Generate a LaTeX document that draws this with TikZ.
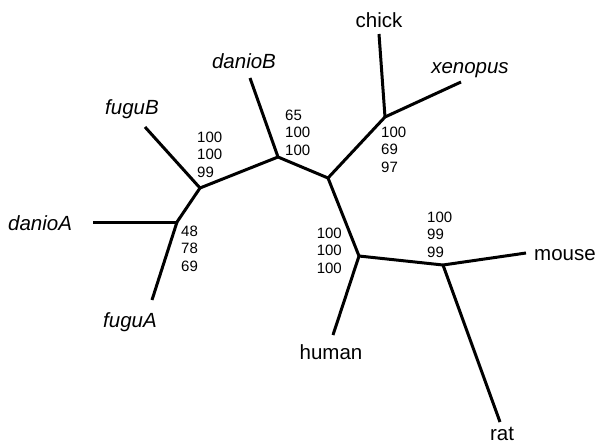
\documentclass[tikz,border=0pt]{standalone}
\usepackage{fontspec}
\setmainfont{Liberation Sans}
\begin{document}
\begin{tikzpicture}[x=1pt,y=-1pt,
  branch/.style={line width=3pt,line cap=butt,line join=round},
  taxon/.style={inner sep=0pt,font=\fontsize{20.5}{24}\selectfont},
  itaxon/.style={taxon,font=\fontsize{20.5}{24}\selectfont\itshape},
  support/.style={inner sep=0pt,align=left,font=\fontsize{15}{17.2}\selectfont},
  supportr/.style={inner sep=0pt,align=right,font=\fontsize{15}{17.2}\selectfont}]
\useasboundingbox (0,0) rectangle (600,445);
% internal nodes
\coordinate (n1) at (177,222);
\coordinate (n2) at (200,188);
\coordinate (n3) at (278,157);
\coordinate (n4) at (328,178);
\coordinate (n5) at (385,117);
\coordinate (n6) at (359,256);
\coordinate (n7) at (443,265);
% leaf ends
\coordinate (lDanioA) at (93,222);
\coordinate (lFuguA) at (152,300);
\coordinate (lFuguB) at (145,127);
\coordinate (lDanioB) at (250,78);
\coordinate (lChick) at (379,34);
\coordinate (lXenopus) at (461,82);
\coordinate (lHuman) at (333,335);
\coordinate (lMouse) at (526,253);
\coordinate (lRat) at (500,422);
% branches
\draw[branch] (lDanioA) -- (n1);
\draw[branch] (lFuguA) -- (n1);
\draw[branch] (n1) -- (n2);
\draw[branch] (lFuguB) -- (n2);
\draw[branch] (n2) -- (n3);
\draw[branch] (lDanioB) -- (n3);
\draw[branch] (n3) -- (n4);
\draw[branch] (n4) -- (n5);
\draw[branch] (lChick) -- (n5);
\draw[branch] (lXenopus) -- (n5);
\draw[branch] (n4) -- (n6);
\draw[branch] (lHuman) -- (n6);
\draw[branch] (n6) -- (n7);
\draw[branch] (lMouse) -- (n7);
\draw[branch] (lRat) -- (n7);
% taxon labels
\node[itaxon,anchor=base west] (tDanioA) at (8,230) {danioA};
\node[itaxon,anchor=base] (tFuguA) at (130,327) {fuguA};
\node[itaxon,anchor=base] (tFuguB) at (132,114) {fuguB};
\node[itaxon,anchor=base] (tDanioB) at (244,68) {danioB};
\node[taxon,anchor=base] (tChick) at (379,27) {chick};
\node[itaxon,anchor=base] (tXenopus) at (470,73) {xenopus};
\node[taxon,anchor=base] (tHuman) at (331,359) {human};
\node[taxon,anchor=base west] (tMouse) at (534,260) {mouse};
\node[taxon,anchor=base] (tRat) at (502,440) {rat};
% support values
\node[support,anchor=north west] (sFuguB) at (197,132) {100\\100\\99};
\node[support,anchor=north west] (sDanioA) at (181,226) {48\\78\\69};
\node[support,anchor=north west] (sDanioB) at (285,110) {65\\100\\100};
\node[support,anchor=north west] (sChick) at (381,127) {100\\69\\97};
\node[supportr,anchor=north east] (sHuman) at (342,228) {100\\100\\100};
\node[support,anchor=north west] (sMouse) at (427,212) {100\\99\\99};
\end{tikzpicture}
\end{document}
